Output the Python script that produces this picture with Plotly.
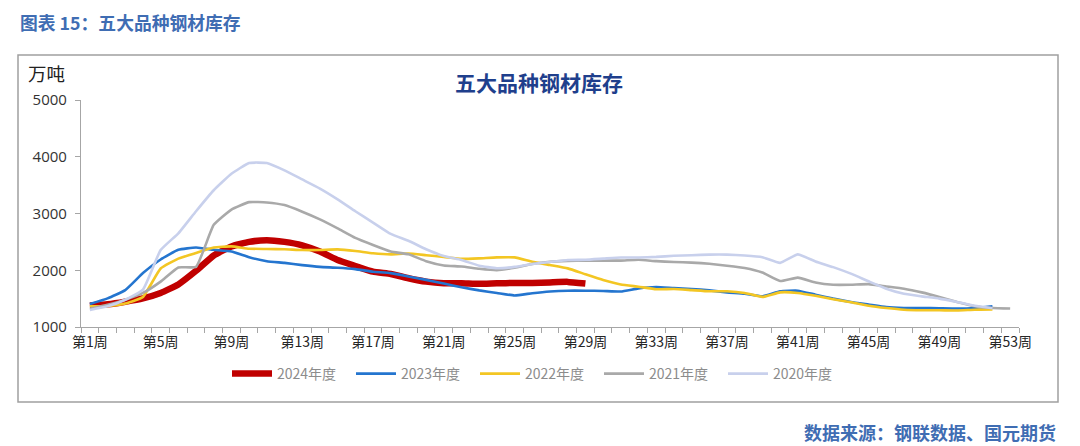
import plotly.graph_objects as go

weeks_all = list(range(1, 54))
tick_weeks = list(range(1, 54, 4))
tick_labels = [f"第{w}周" for w in tick_weeks]

series_names = ["2024年度", "2023年度", "2022年度", "2021年度", "2020年度"]

y2024 = [1380, 1400, 1446, 1505, 1600, 1750, 1990, 2260, 2420, 2500, 2530, 2500, 2440, 2330, 2180,
         2075, 1975, 1935, 1860, 1800, 1770, 1770, 1760, 1770, 1775, 1775, 1785, 1795, 1765]

y2023 = [1405, 1505, 1650, 1950, 2190, 2360, 2400, 2360, 2330, 2230, 2160, 2130, 2090, 2060, 2045,
         2020, 1975, 1950, 1890, 1830, 1765, 1700, 1645, 1600, 1555, 1595, 1625, 1640, 1640, 1635,
         1625, 1680, 1705, 1685, 1670, 1645, 1610, 1585, 1540, 1630, 1640, 1570, 1500, 1440, 1395,
         1350, 1335, 1335, 1330, 1325, 1335, 1365]

y2022 = [1365, 1370, 1413, 1530, 2030, 2205, 2305, 2400, 2420, 2380, 2375, 2370, 2356, 2356, 2368,
         2340, 2300, 2280, 2295, 2265, 2235, 2200, 2210, 2227, 2227, 2150, 2092, 2033, 1930, 1830,
         1750, 1710, 1665, 1670, 1650, 1630, 1630, 1600, 1530, 1610, 1600, 1550, 1490, 1435, 1375,
         1335, 1305, 1295, 1295, 1290, 1305, 1310]

y2021 = [1320, 1390, 1480, 1600, 1800, 2050, 2060, 2800, 3070, 3200, 3195, 3148, 3031, 2896, 2738,
         2570, 2445, 2330, 2280, 2160, 2085, 2065, 2025, 2000, 2045, 2110, 2150, 2165, 2170, 2170,
         2170, 2185, 2160, 2145, 2135, 2115, 2080, 2040, 1960, 1810, 1870, 1785, 1745, 1745, 1755,
         1715, 1675, 1610, 1530, 1440, 1365, 1335, 1325]

y2020 = [1300, 1365, 1480, 1660, 2355, 2650, 3040, 3410, 3700, 3890, 3890, 3760, 3600, 3440, 3250,
         3040, 2840, 2640, 2520, 2370, 2250, 2180, 2080, 2035, 2060, 2110, 2145, 2180, 2185, 2205,
         2225, 2225, 2235, 2255, 2265, 2275, 2275, 2260, 2230, 2130, 2280, 2155, 2055, 1940, 1805,
         1675, 1585, 1540, 1500, 1440, 1375, 1330]

all_series = [y2024, y2023, y2022, y2021, y2020]
colors = ["#C00000", "#2475CF", "#F3C623", "#A9A9A9", "#C8D0EC"]
widths = [6.5, 2.6, 2.6, 2.6, 2.6]

fig = go.Figure()
for name, ys, c, w in zip(series_names, all_series, colors, widths):
    fig.add_trace(go.Scatter(
        x=weeks_all[:len(ys)], y=ys, name=name, mode="lines",
        line=dict(color=c, width=w, shape="spline", smoothing=0.4),
    ))

OFF = 8  # page body margin
W, H = 1080 - OFF, 446 - OFF
L, T = 81 - OFF, 100 - OFF
R = W - (1019 - OFF)
B = H - (327 - OFF)
pw, ph = W - L - R, H - T - B

def px_x(p):
    return (p - OFF - L) / pw

def px_y(p):
    return (H - B - (p - OFF)) / ph

fig.update_layout(
    width=W, height=H,
    margin=dict(l=L, r=R, t=T, b=B),
    plot_bgcolor="white", paper_bgcolor="white",
    showlegend=True,
    legend=dict(orientation="h", x=px_x(537), xanchor="center", y=px_y(374), yanchor="middle",
                font=dict(family="Noto Sans CJK SC", size=14, color="#8C8C8C"),
                itemwidth=40, tracegroupgap=0, entrywidth=69),
    xaxis=dict(
        range=[0.5, 53.5], tickmode="array", tickvals=tick_weeks, ticktext=tick_labels,
        ticks="", showgrid=False, zeroline=False,
        showline=True, linecolor="#A6A6A6", linewidth=1.2,
        tickfont=dict(family="Noto Sans CJK SC", size=14, color="#262626"),
        minor=dict(ticks="outside", tickvals=[i + 0.5 for i in range(54)], ticklen=5,
                   tickcolor="#A6A6A6", tickwidth=1, showgrid=False),
        ticklabelstandoff=2,
    ),
    yaxis=dict(
        range=[1000, 5000], tickvals=[1000, 2000, 3000, 4000, 5000],
        ticks="outside", ticklen=5, tickcolor="#A6A6A6",
        showgrid=False, zeroline=False, showline=True, linecolor="#A6A6A6", linewidth=1.2,
        tickfont=dict(family="Open Sans", size=15, color="#333333"),
        ticklabelstandoff=5,
    ),
    font=dict(family="Noto Sans CJK SC"),
)

# outer chart frame
fig.add_shape(type="rect", xref="paper", yref="paper",
              x0=px_x(18), x1=px_x(1058), y0=px_y(402), y1=px_y(55),
              line=dict(color="#A0A0A0", width=1.5), fillcolor="rgba(0,0,0,0)", layer="below")

fig.add_annotation(text="<b>图表 15：五大品种钢材库存</b>", xref="paper", yref="paper",
                   x=px_x(18), y=px_y(22), xanchor="left", yanchor="middle", showarrow=False,
                   font=dict(family="Noto Sans CJK SC", size=17.8, color="#3F6DB3"))
fig.add_annotation(text="<b>五大品种钢材库存</b>", xref="paper", yref="paper",
                   x=px_x(539), y=px_y(82), xanchor="center", yanchor="middle", showarrow=False,
                   font=dict(family="Noto Sans CJK SC", size=21, color="#1F3F8C"))
fig.add_annotation(text="万吨", xref="paper", yref="paper",
                   x=px_x(26), y=px_y(73), xanchor="left", yanchor="middle", showarrow=False,
                   font=dict(family="Noto Sans CJK SC", size=18.5, color="#222222"))
fig.add_annotation(text="<b>数据来源：钢联数据、国元期货</b>", xref="paper", yref="paper",
                   x=px_x(1058), y=px_y(432), xanchor="right", yanchor="middle", showarrow=False,
                   font=dict(family="Noto Sans CJK SC", size=18, color="#3F6DB3"))

fig.write_html("out.html")
